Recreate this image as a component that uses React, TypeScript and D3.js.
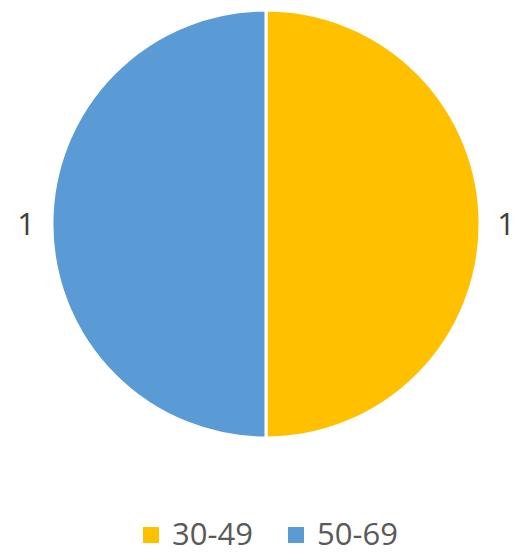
import React from 'react';
import * as d3 from 'd3';

const categories = ['30-49', '50-69'];
const values = [1, 1];
const colors = ['#FFC000', '#5B9BD5'];

const W = 516, H = 553;
const cx = 266, cy = 224, radius = 214;

export default function App() {
  const pie = d3.pie<number>().sort(null).value((d) => d);
  const arcs = pie(values);
  const arc = d3.arc<d3.PieArcDatum<number>>().innerRadius(0).outerRadius(radius);
  const labelArc = d3.arc<d3.PieArcDatum<number>>().innerRadius(radius + 26).outerRadius(radius + 26);

  const font = "'Open Sans', sans-serif";
  const legendX = [143, 288];

  return (
    <svg width={W} height={H} style={{ position: 'absolute', left: 0, top: 0 }}>
      <rect width={W} height={H} fill="#fff" />
      <g transform={`translate(${cx},${cy})`}>
        {arcs.map((a, i) => (
          <path key={i} d={arc(a) || ''} fill={colors[i]} stroke="#fff" strokeWidth={3} />
        ))}
        {arcs.map((a, i) => {
          const [x, y] = labelArc.centroid(a);
          return (
            <text key={'l' + i} x={x} y={y} dy="0.36em" textAnchor="middle"
              fontFamily={font} fontSize={31} fill="#404040">
              {a.data}
            </text>
          );
        })}
      </g>
      {categories.map((c, i) => (
        <g key={c} transform={`translate(${legendX[i]},0)`}>
          <rect x={0} y={527} width={16} height={16} fill={colors[i]} />
          <text x={29} y={545} fontFamily={font} fontSize={31} fill="#595959">{c}</text>
        </g>
      ))}
    </svg>
  );
}
